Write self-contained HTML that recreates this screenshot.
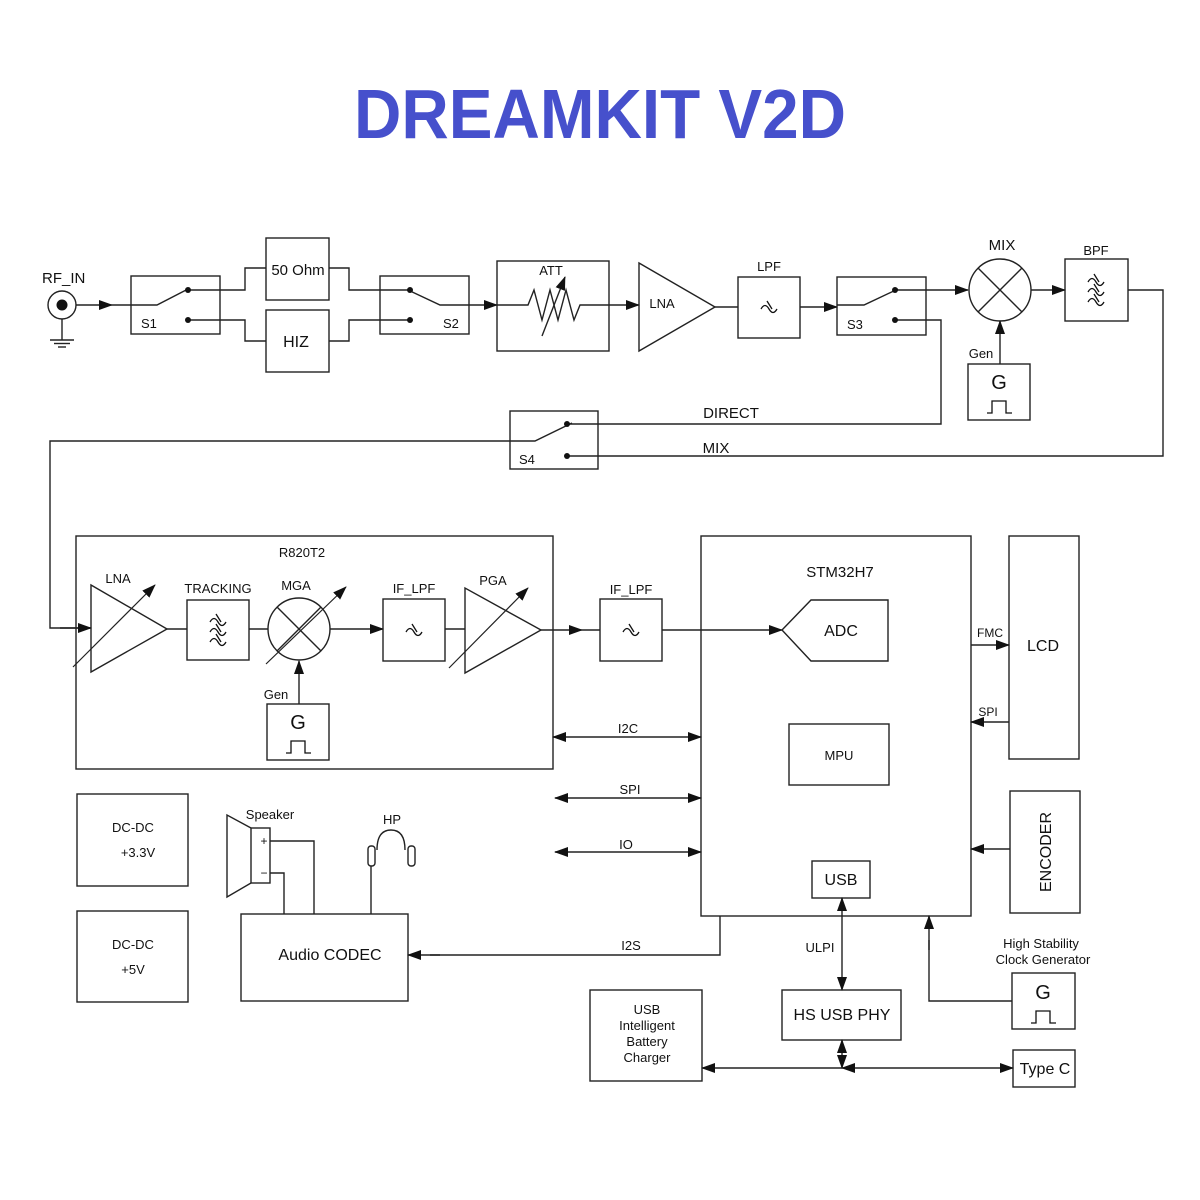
<!DOCTYPE html>
<html><head><meta charset="utf-8"><style>
html,body{margin:0;padding:0;background:#fff;}
svg{display:block}
text{font-family:"Liberation Sans",Arial,sans-serif;fill:#111}
</style></head><body>
<svg width="1200" height="1200" viewBox="0 0 1200 1200" xmlns="http://www.w3.org/2000/svg">
<defs>
<marker id="a" markerUnits="userSpaceOnUse" markerWidth="14" markerHeight="10" refX="13" refY="5" orient="auto"><path d="M0,0 L14,5 L0,10 Z" fill="#111"/></marker>
<marker id="s" markerUnits="userSpaceOnUse" markerWidth="14" markerHeight="10" refX="1" refY="5" orient="auto"><path d="M14,0 L0,5 L14,10 Z" fill="#111"/></marker>
<g id="f1" fill="none" stroke="#111" stroke-width="1.3"><path d="M-8,2 q4,-7 8,0 t8,0"/><path d="M-2,-6 L3,2"/></g>
<g id="gen" fill="none" stroke="#111" stroke-width="1.3"><path d="M-13,0 h5 v-12 h14 v12 h6"/></g>
</defs>
<text x="600" y="138" text-anchor="middle" font-size="70" font-weight="bold" style="fill:#4650cc" textLength="492" lengthAdjust="spacingAndGlyphs">DREAMKIT V2D</text>

<g fill="none" stroke="#222" stroke-width="1.4">
<!-- RF_IN -->
<circle cx="62" cy="305" r="14"/>
<line x1="62" y1="319" x2="62" y2="340"/>
<line x1="50" y1="340" x2="74" y2="340"/><line x1="54" y1="343.5" x2="70" y2="343.5"/><line x1="58" y1="347" x2="66" y2="347"/>
<line x1="76" y1="305" x2="112" y2="305" marker-end="url(#a)"/>
<line x1="112" y1="305" x2="131" y2="305"/>
<!-- S1 -->
<rect x="131" y="276" width="89" height="58"/>
<polyline points="131,305 157,305 190,288"/>
<polyline points="188,290 245,290 245,268 266,268"/>
<polyline points="188,320 245,320 245,341 266,341"/>
<rect x="266" y="238" width="63" height="62"/>
<rect x="266" y="310" width="63" height="62"/>
<polyline points="329,268 349,268 349,290 410,290"/>
<polyline points="329,341 349,341 349,320 410,320"/>
<!-- S2 -->
<rect x="380" y="276" width="89" height="58"/>
<polyline points="408,290 440,305 469,305"/>
<line x1="469" y1="305" x2="497" y2="305" marker-end="url(#a)"/>
<!-- ATT -->
<rect x="497" y="261" width="112" height="90"/>
<polyline points="497,305 528,305 534,290 542,320 550,290 558,320 566,290 574,320 580,305 609,305"/>
<line x1="542" y1="336" x2="565" y2="277" marker-end="url(#a)"/>
<line x1="609" y1="305" x2="639" y2="305" marker-end="url(#a)"/>
<polygon points="639,263 639,351 715,307"/>
<line x1="715" y1="307" x2="738" y2="307"/>
<rect x="738" y="277" width="62" height="61"/>
<line x1="800" y1="307" x2="837" y2="307" marker-end="url(#a)"/>
<!-- S3 -->
<rect x="837" y="277" width="89" height="58"/>
<polyline points="837,305 864,305 898,289"/>
<line x1="895" y1="290" x2="968" y2="290" marker-end="url(#a)"/>
<circle cx="1000" cy="290" r="31"/>
<line x1="978" y1="268" x2="1022" y2="312"/><line x1="1022" y1="268" x2="978" y2="312"/>
<line x1="1031" y1="290" x2="1065" y2="290" marker-end="url(#a)"/>
<rect x="1065" y="259" width="63" height="62"/>
<rect x="968" y="364" width="62" height="56"/>
<line x1="1000" y1="364" x2="1000" y2="321" marker-end="url(#a)"/>
<polyline points="895,320 941,320 941,424 567,424"/>
<polyline points="1128,290 1163,290 1163,456 567,456"/>
<!-- S4 -->
<rect x="510" y="411" width="88" height="58"/>
<polyline points="510,441 535,441 572,423"/>
<polyline points="510,441 50,441 50,628 91,628"/>
<line x1="60" y1="628" x2="91" y2="628" marker-end="url(#a)"/>
<!-- R820T2 -->
<rect x="76" y="536" width="477" height="233"/>
<polygon points="91,585 91,672 167,629"/>
<line x1="73" y1="667" x2="155" y2="585" marker-end="url(#a)" stroke-width="1.2"/>
<line x1="167" y1="629" x2="187" y2="629"/>
<rect x="187" y="600" width="62" height="60"/>
<line x1="249" y1="629" x2="268" y2="629"/>
<circle cx="299" cy="629" r="31"/>
<line x1="277" y1="607" x2="321" y2="651"/><line x1="321" y1="607" x2="277" y2="651"/>
<line x1="266" y1="664" x2="346" y2="587" marker-end="url(#a)" stroke-width="1.2"/>
<line x1="330" y1="629" x2="383" y2="629" marker-end="url(#a)"/>
<rect x="383" y="599" width="62" height="62"/>
<line x1="445" y1="629" x2="465" y2="629"/>
<polygon points="465,588 465,673 541,630"/>
<line x1="449" y1="668" x2="528" y2="588" marker-end="url(#a)" stroke-width="1.2"/>
<line x1="541" y1="630" x2="582" y2="630" marker-end="url(#a)"/>
<line x1="582" y1="630" x2="600" y2="630"/>
<rect x="600" y="599" width="62" height="62"/>
<rect x="267" y="704" width="62" height="56"/>
<line x1="299" y1="704" x2="299" y2="661" marker-end="url(#a)"/>
<line x1="662" y1="630" x2="782" y2="630" marker-end="url(#a)"/>
<!-- STM32 -->
<rect x="701" y="536" width="270" height="380"/>
<polygon points="782,630 811,600 888,600 888,661 811,661"/>
<rect x="789" y="724" width="100" height="61"/>
<rect x="812" y="861" width="58" height="37"/>
<line x1="553" y1="737" x2="701" y2="737" marker-start="url(#s)" marker-end="url(#a)"/>
<line x1="555" y1="798" x2="701" y2="798" marker-start="url(#s)" marker-end="url(#a)"/>
<line x1="555" y1="852" x2="701" y2="852" marker-start="url(#s)" marker-end="url(#a)"/>
<rect x="1009" y="536" width="70" height="223"/>
<line x1="971" y1="645" x2="1009" y2="645" marker-end="url(#a)"/>
<line x1="1009" y1="722" x2="971" y2="722" marker-end="url(#a)"/>
<rect x="1010" y="791" width="70" height="122"/>
<line x1="1010" y1="849" x2="971" y2="849" marker-end="url(#a)"/>
<!-- power -->
<rect x="77" y="794" width="111" height="92"/>
<rect x="77" y="911" width="111" height="91"/>
<!-- speaker -->
<rect x="251" y="828" width="19" height="55"/>
<polyline points="251,828 227,815 227,897 251,883"/>
<polyline points="270,841 314,841 314,914"/>
<polyline points="270,873 284,873 284,914"/>
<path d="M377,850 Q377,830 391,830 Q405,830 405,850"/>
<rect x="368" y="846" width="7" height="20" rx="3"/>
<rect x="408" y="846" width="7" height="20" rx="3"/>
<line x1="371" y1="866" x2="371" y2="914"/>
<rect x="241" y="914" width="167" height="87"/>
<polyline points="720,916 720,955 430,955"/>
<line x1="440" y1="955" x2="408" y2="955" marker-end="url(#a)"/>
<!-- USB -->
<line x1="842" y1="898" x2="842" y2="990" marker-start="url(#s)" marker-end="url(#a)"/>
<rect x="782" y="990" width="119" height="50"/>
<line x1="842" y1="1040" x2="842" y2="1068" marker-start="url(#s)" marker-end="url(#a)"/>
<line x1="702" y1="1068" x2="842" y2="1068" marker-start="url(#s)"/>
<line x1="842" y1="1068" x2="1013" y2="1068" marker-start="url(#s)" marker-end="url(#a)"/>
<rect x="590" y="990" width="112" height="91"/>
<rect x="1013" y="1050" width="62" height="37"/>
<rect x="1012" y="973" width="63" height="56"/>
<polyline points="1012,1001 929,1001 929,940"/>
<line x1="929" y1="950" x2="929" y2="916" marker-end="url(#a)"/>
</g>
<!-- dots -->
<g fill="#111">
<circle cx="62" cy="305" r="5.5"/>
<circle cx="188" cy="290" r="3"/><circle cx="188" cy="320" r="3"/>
<circle cx="410" cy="290" r="3"/><circle cx="410" cy="320" r="3"/>
<circle cx="895" cy="290" r="3"/><circle cx="895" cy="320" r="3"/>
<circle cx="567" cy="424" r="3"/><circle cx="567" cy="456" r="3"/>
</g>
<!-- filter symbols -->
<use href="#f1" x="769" y="307"/>
<use href="#f1" x="631" y="630"/>
<use href="#f1" x="414" y="630"/>
<use href="#f1" x="218" y="620"/><use href="#f1" x="218" y="630"/><use href="#f1" x="218" y="640"/>
<use href="#f1" x="1096" y="280"/><use href="#f1" x="1096" y="290"/><use href="#f1" x="1096" y="300"/>
<use href="#gen" x="1000" y="413"/>
<use href="#gen" x="299" y="753"/>
<use href="#gen" x="1044" y="1023"/>
<!-- text -->
<g font-size="13">
<text x="42" y="283" font-size="15">RF_IN</text>
<text x="141" y="328">S1</text>
<text x="443" y="328">S2</text>
<text x="847" y="329">S3</text>
<text x="519" y="464">S4</text>
<text x="298" y="275" text-anchor="middle" font-size="15">50 Ohm</text>
<text x="296" y="347" text-anchor="middle" font-size="16">HIZ</text>
<text x="551" y="275" text-anchor="middle">ATT</text>
<text x="662" y="308" text-anchor="middle">LNA</text>
<text x="769" y="271" text-anchor="middle">LPF</text>
<text x="1002" y="250" text-anchor="middle" font-size="15">MIX</text>
<text x="1096" y="255" text-anchor="middle">BPF</text>
<text x="981" y="358" text-anchor="middle">Gen</text>
<text x="999" y="389" text-anchor="middle" font-size="20">G</text>
<text x="731" y="418" text-anchor="middle" font-size="15">DIRECT</text>
<text x="716" y="453" text-anchor="middle" font-size="15">MIX</text>
<text x="302" y="557" text-anchor="middle">R820T2</text>
<text x="118" y="583" text-anchor="middle">LNA</text>
<text x="218" y="593" text-anchor="middle">TRACKING</text>
<text x="296" y="590" text-anchor="middle">MGA</text>
<text x="414" y="593" text-anchor="middle">IF_LPF</text>
<text x="493" y="585" text-anchor="middle">PGA</text>
<text x="631" y="594" text-anchor="middle">IF_LPF</text>
<text x="276" y="699" text-anchor="middle">Gen</text>
<text x="298" y="729" text-anchor="middle" font-size="20">G</text>
<text x="840" y="577" text-anchor="middle" font-size="15">STM32H7</text>
<text x="841" y="636" text-anchor="middle" font-size="16">ADC</text>
<text x="839" y="760" text-anchor="middle">MPU</text>
<text x="841" y="885" text-anchor="middle" font-size="16">USB</text>
<text x="628" y="733" text-anchor="middle">I2C</text>
<text x="630" y="794" text-anchor="middle">SPI</text>
<text x="626" y="849" text-anchor="middle">IO</text>
<text x="990" y="637" text-anchor="middle" font-size="12">FMC</text>
<text x="988" y="716" text-anchor="middle" font-size="12">SPI</text>
<text x="1043" y="651" text-anchor="middle" font-size="16">LCD</text>
<text transform="translate(1051,852) rotate(-90)" text-anchor="middle" font-size="16">ENCODER</text>
<text x="133" y="832" text-anchor="middle">DC-DC</text>
<text x="138" y="857" text-anchor="middle">+3.3V</text>
<text x="133" y="949" text-anchor="middle">DC-DC</text>
<text x="133" y="974" text-anchor="middle">+5V</text>
<text x="270" y="819" text-anchor="middle">Speaker</text>
<text x="264" y="845" text-anchor="middle" font-size="12">+</text>
<text x="264" y="877" text-anchor="middle" font-size="12">−</text>
<text x="392" y="824" text-anchor="middle">HP</text>
<text x="330" y="960" text-anchor="middle" font-size="16">Audio CODEC</text>
<text x="631" y="950" text-anchor="middle">I2S</text>
<text x="820" y="952" text-anchor="middle">ULPI</text>
<text x="842" y="1020" text-anchor="middle" font-size="16">HS USB PHY</text>
<text x="647" y="1014" text-anchor="middle">USB</text>
<text x="647" y="1030" text-anchor="middle">Intelligent</text>
<text x="647" y="1046" text-anchor="middle">Battery</text>
<text x="647" y="1062" text-anchor="middle">Charger</text>
<text x="1045" y="1074" text-anchor="middle" font-size="16">Type C</text>
<text x="1041" y="948" text-anchor="middle">High Stability</text>
<text x="1043" y="964" text-anchor="middle">Clock Generator</text>
<text x="1043" y="999" text-anchor="middle" font-size="20">G</text>
</g>
</svg>
</body></html>
